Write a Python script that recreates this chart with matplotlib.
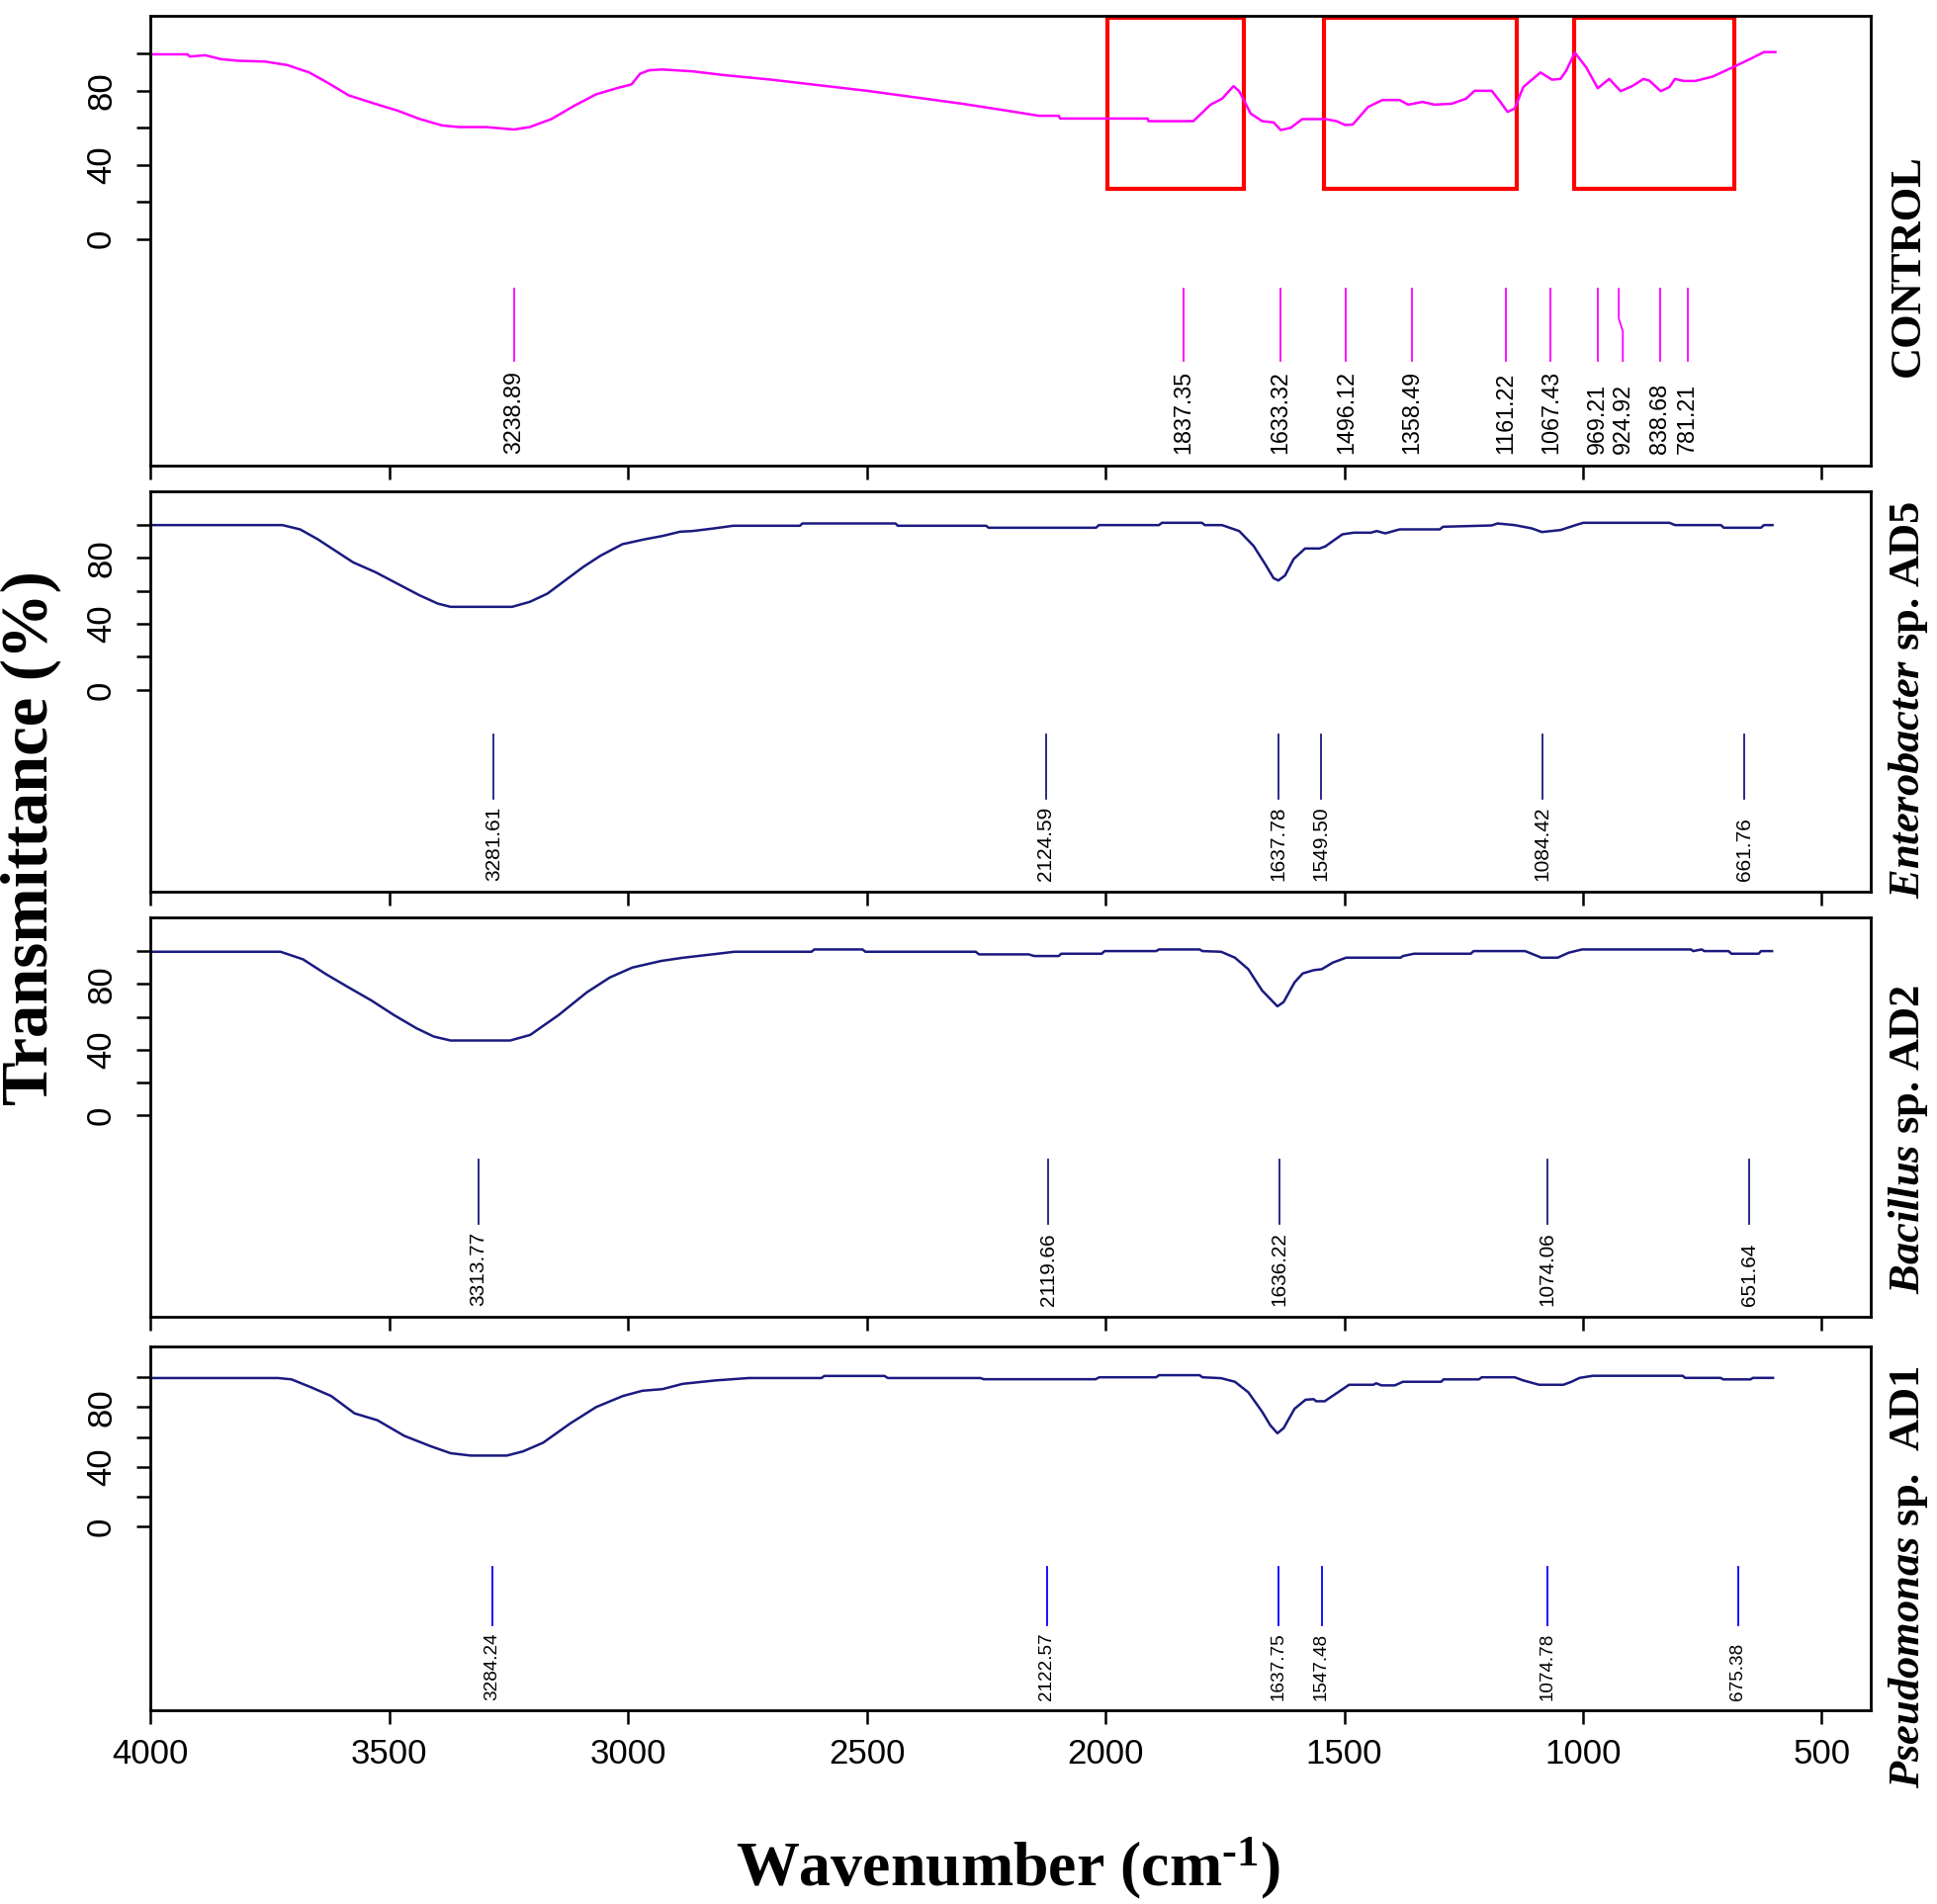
"""
FTIR spectra of the control and three bacterial isolates, stacked in four panels
"""

import matplotlib.pyplot as plt
from matplotlib.patches import Rectangle

plt.rcParams['font.family'] = ['Liberation Sans', 'DejaVu Sans']
plt.rcParams['mathtext.fontset'] = 'custom'
plt.rcParams['mathtext.rm'] = 'Liberation Serif:bold'
plt.rcParams['mathtext.it'] = 'Liberation Serif:italic:bold'
plt.rcParams['mathtext.bf'] = 'Liberation Serif:bold'

# Spectra: wavenumber (cm-1) and transmittance (%)
control_wn = [4000, 3923, 3918, 3886, 3853, 3816, 3761, 3714, 3668, 3631, 3585, 3529,
              3483, 3437, 3390, 3354, 3298, 3239, 3206, 3160, 3113, 3067, 3021, 2993,
              2975, 2956, 2928, 2865, 2800, 2700, 2600, 2500, 2400, 2300, 2200, 2140,
              2098, 2095, 1912, 1910, 1816, 1780, 1756, 1732, 1720, 1696, 1672, 1648,
              1633, 1612, 1588, 1540, 1516, 1498, 1482, 1450, 1420, 1384, 1366, 1336,
              1311, 1275, 1245, 1227, 1191, 1173, 1158, 1143, 1125, 1089, 1065, 1047,
              1035, 1017, 993, 969, 945, 921, 897, 873, 861, 837, 819, 807, 789, 765,
              729, 687, 651, 621, 597]
control_t = [99.7, 99.7, 98.5, 99.2, 97.1, 96.2, 95.8, 93.9, 89.9, 84.6, 77.5, 72.9,
             69.3, 64.8, 61.3, 60.4, 60.4, 59.1, 60.4, 64.8, 71.9, 78.1, 81.6, 83.4,
             89.2, 91.1, 91.5, 90.5, 88.5, 86, 83, 80, 76.5, 73, 69, 66.5,
             66.5, 65, 65, 63.6, 63.6, 72.5, 75.7, 82.5, 79.8, 67.7, 63.6, 62.9,
             58.8, 60, 64.7, 64.7, 63.6, 61.5, 61.8, 71.3, 75, 75, 72.5, 74,
             72.5, 73, 75.7, 80, 80, 74, 68.6, 70.4, 82, 89.9, 86, 86.4,
             90.9, 100.6, 92.6, 81.4, 86.4, 79.8, 82.5, 86.4, 85.5, 79.8, 82, 86.4, 85.3, 85.3,
             87.6, 92.6, 97, 100.9, 100.9]

entero_wn = [4000, 3724, 3687, 3650, 3613, 3576, 3529, 3483, 3437, 3399, 3372, 3243,
             3206, 3169, 3132, 3095, 3058, 3012, 2965, 2928, 2891, 2865, 2820, 2780,
             2640, 2635, 2440, 2435, 2250, 2245, 2020, 2014, 1888, 1882, 1798, 1792,
             1756, 1720, 1690, 1666, 1648, 1638, 1624, 1606, 1582, 1552, 1540, 1504,
             1480, 1444, 1432, 1414, 1384, 1300, 1293, 1191, 1179, 1143, 1107, 1086,
             1047, 1011, 999, 819, 807, 711, 705, 627, 621, 603]
entero_t = [100, 100, 97.4, 91.4, 84.4, 77.4, 71.4, 64.4, 57.4, 52.4, 50.4, 50.4,
            53.4, 58.4, 66.4, 74.4, 81.4, 88.4, 91.4, 93.4, 96, 96.4, 98, 99.6,
            99.6, 101, 101, 99.6, 99.6, 98.4, 98.4, 100, 100, 101.4, 101.4, 100,
            100, 96.4, 87.4, 76.5, 67.8, 66.4, 69.4, 79.4, 85.8, 85.8, 87, 94.4,
            95.4, 95.4, 96.4, 95, 97.4, 97.4, 99, 99.8, 101, 100, 98, 95.8,
            97, 100.4, 101.4, 101.4, 100, 100, 98.4, 98.4, 100, 100]

bacillus_wn = [4000, 3728, 3681, 3633, 3586, 3538, 3490, 3443, 3407, 3372, 3247, 3205,
               3146, 3086, 3038, 2991, 2931, 2884, 2836, 2777, 2616, 2610, 2509, 2503,
               2272, 2265, 2161, 2149, 2098, 2093, 2008, 2002, 1894, 1888, 1803, 1797,
               1758, 1729, 1701, 1672, 1640, 1627, 1604, 1587, 1564, 1547, 1524, 1496,
               1382, 1377, 1354, 1235, 1229, 1121, 1104, 1087, 1053, 1030, 1002, 774,
               769, 751, 746, 695, 689, 632, 627, 604]
bacillus_t = [99.6, 99.6, 95, 86, 78, 70, 61, 53, 48, 45.6, 45.6, 49,
              61, 75, 84, 90, 94, 96, 97.6, 99.6, 99.6, 101, 101, 99.6,
              99.6, 98, 98, 97, 97, 98.4, 98.4, 100, 100, 101, 101, 100,
              99.6, 96, 89, 76, 66.4, 69, 81, 86.4, 88.4, 89, 93, 96,
              96, 97, 98.4, 98.4, 100, 100, 98, 96, 96, 99, 101, 101,
              100, 101, 100, 100, 98.4, 98.4, 100, 100]

pseudo_wn = [4000, 3733, 3705, 3664, 3622, 3573, 3525, 3469, 3414, 3372, 3330, 3254,
             3220, 3178, 3122, 3067, 3011, 2970, 2928, 2886, 2817, 2747, 2595, 2589,
             2463, 2456, 2262, 2255, 2021, 2013, 1894, 1888, 1803, 1797, 1758, 1729,
             1701, 1672, 1655, 1640, 1627, 1604, 1581, 1564, 1559, 1541, 1513, 1490,
             1439, 1433, 1422, 1394, 1377, 1297, 1292, 1218, 1212, 1143, 1126, 1092,
             1041, 1024, 1007, 979, 791, 786, 712, 706, 649, 644, 602]
pseudo_t = [99.4, 99.4, 98.5, 93.2, 87.4, 75.8, 71.2, 60.8, 53.9, 49.2, 47.6, 47.6,
            50.4, 56.2, 68.9, 80, 87.4, 90.9, 92, 95.5, 97.8, 99.4, 99.4, 100.8,
            100.8, 99.4, 99.4, 98.6, 98.6, 99.9, 99.9, 101.3, 101.3, 99.9, 99.3, 96.9,
            89.9, 76.9, 67.9, 62.5, 65.9, 78.9, 84.9, 85.3, 83.9, 83.9, 89.9, 94.9,
            94.9, 95.9, 94.5, 94.5, 96.9, 96.9, 98.5, 98.5, 99.9, 99.9, 97.9, 94.9,
            94.9, 96.9, 99.5, 100.9, 100.9, 99.5, 99.5, 98.5, 98.5, 99.5, 99.5]

# Picked peaks and where their labels sit
control_peaks = [3238.89, 1837.35, 1633.32, 1496.12, 1358.49, 1161.22, 1067.43,
                 969.21, 924.92, 838.68, 781.21]
control_label_pos = [3238.89, 1837.35, 1633.32, 1496.12, 1358.49, 1161.22, 1067.43,
                     969.21, 916.5, 838.68, 781.21]
entero_peaks = [3281.61, 2124.59, 1637.78, 1549.50, 1084.42, 661.76]
bacillus_peaks = [3313.77, 2119.66, 1636.22, 1074.06, 651.64]
pseudo_peaks = [3284.24, 2122.57, 1637.75, 1547.48, 1074.78, 675.38]

# Highlighted regions on the control spectrum (wavenumber from, to)
control_boxes = [(1996, 1711), (1542, 1139), (1018, 684)]

x_ticks = [4000, 3500, 3000, 2500, 2000, 1500, 1000, 500]
y_ticks = [0, 20, 40, 60, 80, 100]
y_tick_labels = ['0', '', '40', '', '80', '']

W, H = 1959, 1926
LEFT, RIGHT = 152.4, 1891.6


def draw_panel(box, wn, t, color, peaks, label_pos, peak_color, show_xlabels):
    """ Draws one spectrum with its peak markers"""
    top, bottom = box
    ax = fig.add_axes([LEFT / W, 1 - bottom / H, (RIGHT - LEFT) / W, (bottom - top) / H])
    ax.plot(wn, t, color=color, lw=1.8)

    # The panels were scaled separately, so their small text scales with height
    scale = (bottom - top) / 405

    # Peak markers and their rotated labels
    for p, lp in zip(peaks, label_pos):
        ax.plot([p, p, lp, lp], [-27, -43, -50, -66], color=peak_color, lw=1.3)
        ax.text(lp, -116, f'{p:.2f}', rotation=90, rotation_mode='anchor',
                ha='left', va='center', fontsize=15 * scale)

    ax.set_xlim(4000, 398)
    ax.set_ylim(-122.5, 120.5)
    ax.set_xticks(x_ticks)
    ax.set_yticks(y_ticks)
    ax.set_yticklabels(y_tick_labels, rotation=90, va='center')
    ax.tick_params(length=10, width=1.8, labelsize=25)
    ax.tick_params(axis='y', pad=14)
    ax.tick_params(axis='x', pad=10, labelbottom=show_xlabels)
    for s in ax.spines.values():
        s.set_linewidth(2)
    return ax


fig = plt.figure(figsize=(W / 100, H / 100), dpi=100)

ax1 = draw_panel((16, 471), control_wn, control_t, '#ff00ff', control_peaks,
                 control_label_pos, '#ff00ff', False)
for x0, x1 in control_boxes:
    ax1.add_patch(Rectangle((x0, 27), x1 - x0, 92.5, fill=False, edgecolor='red',
                            lw=3, clip_on=False))

draw_panel((497, 902), entero_wn, entero_t, '#1a1a80', entero_peaks,
           entero_peaks, '#1a1a80', False)
draw_panel((928, 1332), bacillus_wn, bacillus_t, '#1a1a80', bacillus_peaks,
           bacillus_peaks, '#1a1a80', False)
draw_panel((1362, 1730), pseudo_wn, pseudo_t, '#1a1a80', pseudo_peaks,
           pseudo_peaks, '#0000ff', True)

# Panel names on the right side
serif = dict(family='Liberation Serif', weight='bold', fontsize=32, rotation=90,
             ha='center', va='center')
fig.text(0.985, 1 - 269 / H, 'CONTROL', **serif)
fig.text(0.985, 1 - 708 / H, r'$\mathit{Enterobacter}$ sp. AD5', **serif)
fig.text(0.985, 1 - 1152 / H, r'$\mathit{Bacillus}$ sp. AD2', **serif)
fig.text(0.985, 1 - 1595 / H, r'$\mathit{Pseudomonas}$ sp.  AD1', **serif)

# Shared axis titles
fig.text(31 / W, 1 - 848 / H, 'Transmittance (%)', family='Liberation Serif',
         weight='bold', fontsize=48, rotation=90, ha='center', va='center')
fig.text(1019 / W, 1 - 1890 / H, 'Wavenumber (cm$^{\\mathregular{\u2010}1}$)',
         family='Liberation Serif', weight='bold', fontsize=46, ha='center', va='center')

plt.savefig('out.png', dpi=100)
